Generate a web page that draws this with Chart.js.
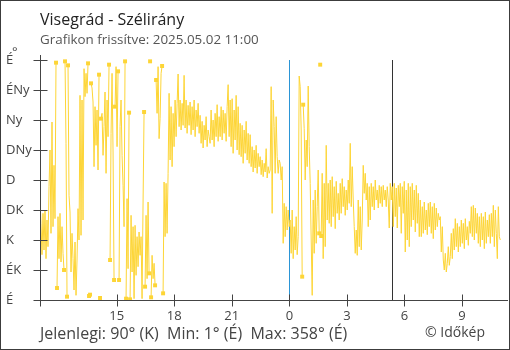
<!DOCTYPE html>
<html lang="hu">
<head>
<meta charset="utf-8">
<title>Visegrád - Szélirány</title>
<script src="https://cdn.jsdelivr.net/npm/chart.js@4.4.1/dist/chart.umd.min.js"></script>
<style>
  html, body { margin: 0; padding: 0; background: #fff; }
  #wrap { position: relative; width: 510px; height: 350px; overflow: hidden; font-family: "Open Sans", sans-serif; }
  #wrap canvas { position: absolute; left: 0; top: 0; }
  .txt { position: absolute; line-height: 1; white-space: pre; }
  #frame { position: absolute; left: 0; top: 0; width: 510px; height: 350px; box-sizing: border-box; border: 1px solid #3c3c3c; pointer-events: none; }
</style>
</head>
<body>
<div id="wrap">
  <canvas id="windChart" width="510" height="350"></canvas>
  <div class="txt" style="left:40px;top:11px;font-size:16px;color:#222">Visegrád - Szélirány</div>
  <div class="txt" style="left:40px;top:33px;font-size:13.4px;color:#555">Grafikon frissítve: 2025.05.02 11:00</div>
  <div class="txt" style="left:12px;top:45px;font-size:13px;color:#444">°</div>
  <div class="txt" style="left:40px;top:325px;font-size:16px;color:#444">Jelenlegi: 90° (K)  Min: 1° (É)  Max: 358° (É)</div>
  <div class="txt" style="left:425px;top:325px;font-size:14px;color:#444">© Időkép</div>
  <div id="frame"></div>
</div>
<script>
// tengelyek
const hourTicks  = [0, 4, 7, 10, 13, 16, 19, 22];          // órák 11:00 óta
const hourLabels = ['', '15', '18', '21', '0', '3', '6', '9'];
const dirTicks   = [0, 45, 90, 135, 180, 225, 270, 315, 360];
const dirLabels  = ['É', 'ÉK', 'K', 'DK', 'D', 'DNy', 'Ny', 'ÉNy', 'É'];
const midnightHour = 13;
const nowHour = 18.33;

// szélirány (fok), 11:00-tól 11:00-ig, egyenletes lépésekben
const windDir = [
  150, 115, 68, 130, 75, 135, 62, 120, 80, 170,
  225, 100, 267, 110, 202, 122, 356, 18, 125, 62,
  130, 57, 110, 70, 45, 358, 235, 5, 352, 157,
  132, 42, 100, 62, 15, 87, 7, 60, 137, 90,
  307, 97, 300, 120, 347, 305, 340, 310, 355, 6,
  8, 325, 318, 297, 200, 290, 232, 285, 195, 338,
  3, 272, 280, 217, 260, 312, 190, 300, 245, 353,
  60, 250, 340, 222, 30, 290, 350, 230, 343, 30,
  260, 300, 217, 172, 110, 358, 2, 152, 47, 281,
  1, 127, 42, 110, 2, 112, 37, 95, 50, 102,
  67, 95, 2, 147, 282, 20, 127, 32, 147, 40,
  358, 4, 67, 32, 55, 22, 330, 280, 350, 242,
  272, 340, 351, 10, 177, 95, 175, 100, 190, 310,
  210, 290, 200, 280, 230, 300, 245, 295, 339, 260,
  300, 255, 295, 262, 337, 258, 300, 250, 292, 262,
  297, 248, 290, 255, 300, 245, 285, 260, 295, 250,
  277, 235, 268, 228, 262, 240, 275, 230, 255, 245,
  235, 285, 240, 270, 230, 280, 245, 293, 238, 275,
  245, 290, 240, 285, 250, 280, 238, 290, 323, 245,
  300, 230, 302, 220, 285, 240, 307, 225, 290, 218,
  265, 215, 262, 205, 255, 220, 268, 210, 250, 205,
  248, 200, 230, 192, 225, 198, 232, 190, 220, 200,
  215, 188, 210, 185, 205, 192, 227, 183, 200, 190,
  195, 320, 130, 300, 260, 190, 275, 215, 190, 210,
  205, 180, 200, 85, 145, 95, 140, 105, 135, 110,
  120, 70, 135, 62, 110, 75, 125, 68, 95, 336,
  320, 255, 35, 293, 257, 180, 240, 200, 321, 230,
  175, 90, 7, 150, 70, 165, 85, 140, 195, 100,
  353, 96, 190, 62, 175, 80, 232, 120, 175, 115,
  180, 110, 185, 125, 170, 107, 178, 130, 160, 120,
  175, 130, 182, 140, 170, 127, 165, 135, 180, 145,
  235, 140, 200, 150, 110, 70, 105, 67, 150, 80,
  140, 75, 120, 202, 160, 190, 150, 175, 110, 170,
  120, 175, 140, 170, 135, 180, 150, 165, 138, 172,
  145, 170, 140, 172, 150, 165, 140, 170, 150, 108,
  175, 150, 170, 110, 175, 125, 168, 108, 172, 140,
  175, 100, 170, 130, 178, 72, 165, 90, 175, 80,
  170, 110, 175, 120, 165, 102, 172, 115, 160, 95,
  150, 95, 140, 100, 147, 105, 135, 98, 145, 110,
  147, 100, 140, 92, 145, 105, 138, 110, 130, 120,
  125, 72, 110, 60, 45, 70, 42, 55, 80, 52,
  65, 100, 62, 107, 75, 122, 80, 115, 72, 110,
  80, 120, 85, 115, 77, 122, 90, 110, 82, 118,
  100, 140, 95, 142, 90, 138, 100, 130, 85, 125,
  80, 130, 90, 125, 77, 132, 85, 120, 95, 128,
  85, 130, 95, 142, 80, 135, 100, 62, 140, 95,
  90
];

const lineColor = '#fdd536';
const axisColor = '#444';

// északon átforduló ugrás: a vonal megszakad, a végpontok négyzetet kapnak
function wraps(i) {
  return i >= 0 && i < windDir.length - 1 && Math.abs(windDir[i] - windDir[i + 1]) > 250;
}

const axisPlugin = {
  id: 'axisPlugin',
  beforeDatasetsDraw(chart) {
    const { ctx, scales: { x, y } } = chart;
    const top = y.getPixelForValue(360);
    const bottom = y.getPixelForValue(0);
    ctx.save();
    ctx.lineWidth = 1;
    [[midnightHour, '#2b95d6'], [nowHour, '#333']].forEach(([h, c]) => {
      const px = Math.round(x.getPixelForValue(h)) + 0.5;
      ctx.strokeStyle = c;
      ctx.beginPath();
      ctx.moveTo(px, top);
      ctx.lineTo(px, bottom);
      ctx.stroke();
    });
    ctx.restore();
  },
  afterDraw(chart) {
    const { ctx, chartArea: a, scales: { x, y } } = chart;
    const ax = Math.round(a.left) + 0.5;
    const ay = Math.round(a.bottom) + 0.5;
    ctx.save();
    ctx.strokeStyle = axisColor;
    ctx.lineWidth = 1;
    ctx.beginPath();
    ctx.moveTo(ax, a.top);
    ctx.lineTo(ax, ay);
    ctx.lineTo(a.right, ay);
    dirTicks.forEach(v => {
      const py = Math.round(y.getPixelForValue(v)) + 0.5;
      ctx.moveTo(ax - 7, py);
      ctx.lineTo(ax + 7, py);
    });
    hourTicks.forEach(h => {
      const px = Math.round(x.getPixelForValue(h)) + 0.5;
      ctx.moveTo(px, ay - 6);
      ctx.lineTo(px, ay + 6);
    });
    ctx.stroke();
    ctx.restore();
  }
};

Chart.defaults.font.family = '"Open Sans", sans-serif';

new Chart(document.getElementById('windChart'), {
  type: 'line',
  data: {
    datasets: [{
      data: windDir.map((v, i) => ({ x: i * 24 / (windDir.length - 1), y: v })),
      borderColor: lineColor,
      borderWidth: 1,
      tension: 0,
      pointStyle: 'rect',
      pointRadius: ctx => (wraps(ctx.dataIndex - 1) || wraps(ctx.dataIndex)) ? 2.8 : 0,
      pointBackgroundColor: lineColor,
      pointBorderWidth: 0,
      pointHoverRadius: 0,
      segment: {
        borderColor: ctx => Math.abs(ctx.p0.parsed.y - ctx.p1.parsed.y) > 250 ? 'rgba(0,0,0,0)' : lineColor
      }
    }]
  },
  options: {
    responsive: false,
    animation: false,
    devicePixelRatio: 1,
    events: [],
    layout: { padding: { left: 6, right: 2, top: 55, bottom: 0 } },
    plugins: { legend: { display: false }, tooltip: { enabled: false } },
    scales: {
      x: {
        type: 'linear',
        min: 0,
        max: 24.4,
        afterBuildTicks: s => { s.ticks = hourTicks.map(v => ({ value: v })); },
        afterFit: s => { s.height = 50; },
        grid: { display: false, drawTicks: false },
        border: { display: false },
        ticks: {
          callback: (v, i) => hourLabels[i],
          color: axisColor,
          font: { size: 13 },
          padding: 8,
          maxRotation: 0,
          autoSkip: false
        }
      },
      y: {
        min: 0,
        max: 367.5,
        afterBuildTicks: s => { s.ticks = dirTicks.map(v => ({ value: v })); },
        afterFit: s => { s.width = 34; },
        grid: { display: false, drawTicks: false },
        border: { display: false },
        ticks: {
          callback: (v, i) => dirLabels[i],
          color: axisColor,
          font: { size: 13 },
          crossAlign: 'far',
          autoSkip: false
        }
      }
    }
  },
  plugins: [axisPlugin]
});
</script>
</body>
</html>
